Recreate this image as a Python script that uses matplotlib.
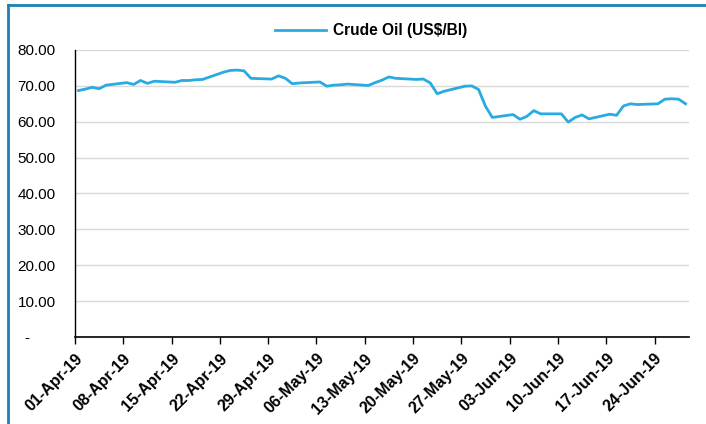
import matplotlib
matplotlib.use("Agg")
import matplotlib.pyplot as plt
from matplotlib.lines import Line2D
import pandas as pd

plt.rcParams['font.family'] = ['Liberation Sans', 'DejaVu Sans']

# Trading days (weekdays) April - June 2019
dates = pd.bdate_range("2019-04-01", "2019-06-28")
prices = [
    68.7, 69.1, 69.6, 69.2, 70.2,      # 01-05 Apr
    70.9, 70.4, 71.5, 70.7, 71.3,      # 08-12 Apr
    71.0, 71.5, 71.5, 71.7, 71.8,      # 15-19 Apr
    73.8, 74.3, 74.4, 74.2, 72.1,      # 22-26 Apr
    71.9, 72.8, 72.1, 70.6, 70.8,      # 29 Apr-03 May
    71.1, 69.9, 70.2, 70.3, 70.5,      # 06-10 May
    70.1, 70.9, 71.6, 72.5, 72.1,      # 13-17 May
    71.8, 71.9, 70.8, 67.8, 68.5,      # 20-24 May
    69.9, 70.0, 69.0, 64.3, 61.2,      # 27-31 May
    62.0, 60.7, 61.5, 63.1, 62.2,      # 03-07 Jun
    62.2, 59.9, 61.2, 61.9, 60.8,      # 10-14 Jun
    62.1, 61.8, 64.4, 65.0, 64.8,      # 17-21 Jun
    65.0, 66.3, 66.4, 66.3, 65.0,      # 24-28 Jun
]
series_label = "Crude Oil (US$/Bl)"
yticks = [0, 10, 20, 30, 40, 50, 60, 70, 80]
ytick_labels = ["-      ", "10.00", "20.00", "30.00", "40.00", "50.00", "60.00", "70.00", "80.00"]
xtick_dates = pd.date_range("2019-04-01", "2019-06-24", freq="7D")

fig = plt.figure(figsize=(7.06, 4.24), dpi=100)
ax = fig.add_axes([75/706, 1 - 337/424, (689-75)/706, (337-50)/424])

# points drawn at mid-day (Excel date axis style)
xpos = dates + pd.Timedelta(hours=12)
ax.plot(xpos, prices, color="#29ABE2", lw=2.0, label=series_label, solid_joinstyle="round")

ax.set_xlim(pd.Timestamp("2019-04-01"), pd.Timestamp("2019-06-29"))
ax.set_ylim(0, 80)
ax.set_yticks(yticks)
ax.set_yticklabels(ytick_labels, fontsize=11)
ax.tick_params(axis="y", length=0, pad=14)
ax.yaxis.grid(True, color="#d9d9d9", lw=1)
ax.set_axisbelow(True)

ax.set_xticks(xtick_dates)
ax.set_xticklabels([d.strftime("%d-%b-%y") for d in xtick_dates], rotation=45,
                   ha="right", rotation_mode="anchor", fontsize=11.5, fontweight="bold")
ax.tick_params(axis="x", length=5, width=1, color="black", pad=5)

for s in ["top", "right"]:
    ax.spines[s].set_visible(False)
ax.spines["left"].set_color("black")
ax.spines["bottom"].set_color("black")
ax.spines["left"].set_linewidth(1)
ax.spines["bottom"].set_linewidth(1.2)

leg = ax.legend(loc="center", bbox_to_anchor=(371/706, (424-31)/424), bbox_transform=fig.transFigure,
                frameon=False, prop={"weight": "bold", "size": 11.2}, handlelength=3.3,
                handletextpad=0.4)

# outer frame (left and top border)
fig.add_artist(Line2D([7.5/706, 7.5/706], [0, 1 - 4.5/424], transform=fig.transFigure,
                      color="#1f80b3", lw=2))
fig.add_artist(Line2D([7.5/706, 1], [1 - 4.5/424, 1 - 4.5/424], transform=fig.transFigure,
                      color="#1f80b3", lw=2))

fig.savefig("out.png", dpi=100)
